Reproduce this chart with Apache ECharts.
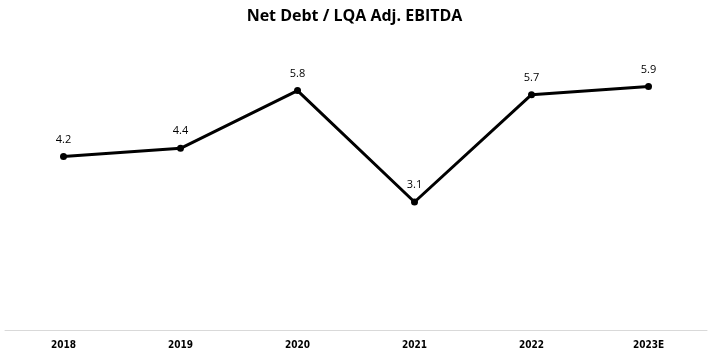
<!DOCTYPE html>
<html>
<head>
<meta charset="utf-8">
<script src="https://cdn.jsdelivr.net/npm/echarts@6/dist/echarts.min.js"></script>
<style>
  html, body { margin: 0; padding: 0; background: #fff; }
  #chart { width: 709px; height: 354px; }
</style>
</head>
<body>
<div id="chart"></div>
<script>
  // categories and values
  var years = ['2018', '2019', '2020', '2021', '2022', '2023E'];
  var leverage = [4.2, 4.4, 5.8, 3.1, 5.7, 5.9];

  var chart = echarts.init(document.getElementById('chart'));
  chart.setOption({
    animation: false,
    title: {
      text: 'Net Debt / LQA Adj. EBITDA',
      left: 'center',
      top: 3,
      textStyle: {
        fontFamily: 'Open Sans',
        fontWeight: 'bold',
        fontSize: 16,
        color: '#000'
      }
    },
    grid: {
      left: 5,
      right: 2,
      top: 41,
      bottom: 24
    },
    xAxis: {
      type: 'category',
      data: years,
      axisLine: { lineStyle: { color: '#d9d9d9', width: 1 } },
      axisTick: { show: false },
      axisLabel: {
        margin: 10,
        fontFamily: 'DejaVu Sans Condensed',
        fontWeight: 'bold',
        fontSize: 10,
        color: '#000'
      }
    },
    yAxis: {
      type: 'value',
      min: 0,
      max: 7,
      show: false,
      splitLine: { show: false }
    },
    series: [
      {
        name: 'Net Debt / LQA Adj. EBITDA',
        type: 'line',
        data: leverage,
        symbol: 'circle',
        symbolSize: 7,
        lineStyle: { color: '#000', width: 3 },
        itemStyle: { color: '#000' },
        label: {
          show: true,
          position: 'top',
          distance: 8,
          fontFamily: 'Open Sans',
          fontSize: 11,
          color: '#000',
          formatter: function (p) { return p.value.toFixed(1); }
        }
      }
    ]
  });
</script>
</body>
</html>
